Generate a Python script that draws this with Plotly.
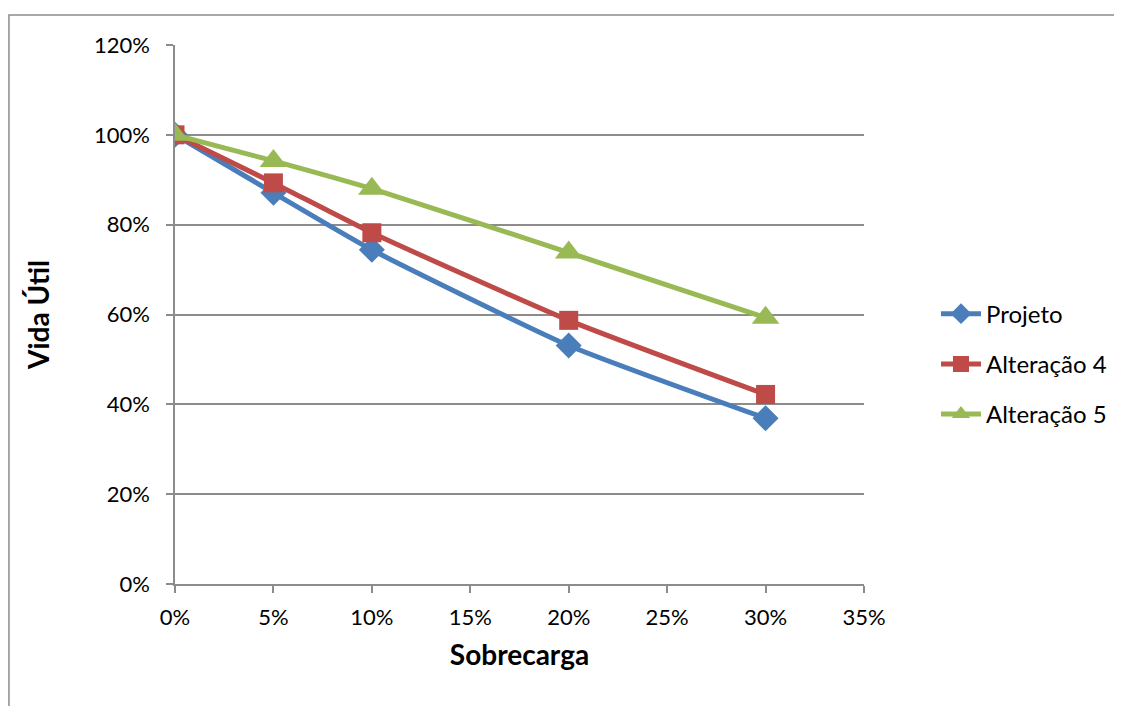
import plotly.graph_objects as go

# Sobrecarga (%) vs Vida Útil (%)
SOBRECARGA = [0, 5, 10, 20, 30]
PROJETO = [100, 87.1, 74.4, 53.1, 36.9]
ALTERACAO_4 = [100, 89.3, 78.2, 58.7, 42.2]
ALTERACAO_5 = [100, 94.2, 88.0, 73.8, 59.3]

SERIES = [
    ("Projeto", PROJETO, "#4A7EBB", "diamond", 20),
    ("Alteração 4", ALTERACAO_4, "#BE4B48", "square", 19),
    ("Alteração 5", ALTERACAO_5, "#98B954", "triangle-up", 24),
]

FONT = "Lato, 'Open Sans', sans-serif"
GRID = "#8c8c8c"

fig = go.Figure()

for name, vals, color, symbol, size in SERIES:
    fig.add_trace(go.Scatter(
        x=SOBRECARGA,
        y=vals,
        mode="lines+markers",
        name=name,
        legendgroup=name,
        line=dict(color=color, width=5, shape="spline", smoothing=0.5),
        marker=dict(symbol=symbol, size=size, color=color),
    ))

# outer chart border (Excel chart area)
fig.add_shape(
    type="rect", xref="paper", yref="paper",
    x0=-0.241, x1=1.3687, y0=-0.25, y1=1.0557,
    line=dict(color="#8c8c8c", width=1.5), layer="below",
)

# page has an 8px body margin, so margins are shifted by 8px
fig.update_layout(
    width=1122,
    height=706,
    paper_bgcolor="white",
    plot_bgcolor="white",
    margin=dict(l=167, r=266, t=37, b=130),
    font=dict(family=FONT, size=22, color="black"),
    showlegend=True,
    legend=dict(
        x=1.1045, y=0.408, xanchor="left", yanchor="middle",
        font=dict(size=24),
        tracegroupgap=16,
        itemwidth=40,
    ),
    xaxis=dict(
        range=[0, 35], dtick=5, ticksuffix="%",
        showgrid=False, zeroline=False,
        showline=True, linecolor=GRID, linewidth=1.5,
        ticks="outside", ticklen=7, tickcolor=GRID, tickwidth=1.5,
        ticklabelstandoff=6,
        title=dict(text="<b>Sobrecarga</b>", font=dict(size=28), standoff=16),
    ),
    yaxis=dict(
        range=[0, 120], dtick=20, ticksuffix="%",
        showgrid=True, gridcolor=GRID, gridwidth=1.5, zeroline=False,
        showline=True, linecolor=GRID, linewidth=1.5,
        ticks="outside", ticklen=7, tickcolor=GRID, tickwidth=1.5,
        ticklabelstandoff=12,
        title=dict(text="<b>Vida Útil</b>", font=dict(size=28), standoff=36),
    ),
)

fig.write_html("out.html")
